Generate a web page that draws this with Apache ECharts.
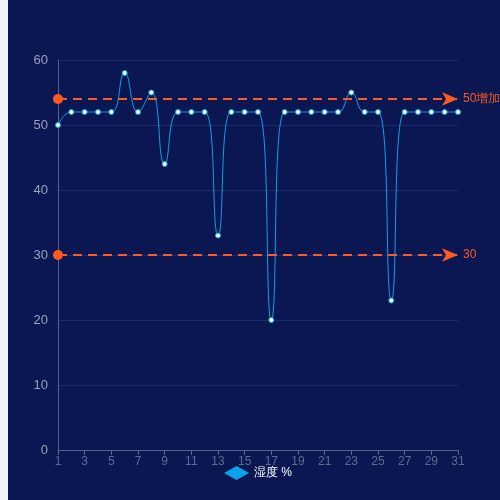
<!DOCTYPE html>
<html>
<head>
<meta charset="utf-8">
<script src="https://cdn.jsdelivr.net/npm/echarts@6/dist/echarts.min.js"></script>
<style>
    html, body { margin: 0; padding: 0; background: #f3f4f9; }
    #main { position: absolute; left: 8px; top: 0; width: 492px; height: 500px; background: #0a1752; }
</style>
</head>
<body>
<div id="main"></div>
<script>
// 日期（1-31）
var days = [];
for (var d = 1; d <= 31; d++) { days.push(String(d)); }

// 湿度 %
var humidity = [50, 52, 52, 52, 52, 58, 52, 55, 44, 52,
                52, 52, 33, 52, 52, 52, 20, 52, 52, 52,
                52, 52, 55, 52, 52, 23, 52, 52, 52, 52, 52];

// 标线
var markValues = [54, 30];
var markLabels = ['50增加值', '30'];

var yTicks = { min: 0, max: 60, interval: 10 };

var myChart = echarts.init(document.getElementById('main'));

var markData = markValues.map(function (v, i) {
    return { yAxis: v, label: { formatter: markLabels[i] } };
});

var option = {
    backgroundColor: '#0a1752',
    animation: false,
    grid: {
        left: 50,
        right: 42,
        top: 60,
        bottom: 50
    },
    legend: {
        bottom: 15,
        left: 211,
        icon: 'diamond',
        itemWidth: 25,
        itemHeight: 14,
        itemStyle: { color: '#0aa1ea', borderWidth: 0 },
        textStyle: { color: '#ffffff', fontSize: 12 },
        data: ['湿度 %']
    },
    xAxis: {
        type: 'category',
        boundaryGap: false,
        data: days,
        axisLine: { lineStyle: { color: '#5b6386' } },
        axisTick: { show: true, lineStyle: { color: '#5b6386' } },
        axisLabel: { color: '#5f6b8f', fontSize: 12, interval: 1, margin: 6 },
        splitLine: { show: false }
    },
    yAxis: {
        type: 'value',
        min: yTicks.min,
        max: yTicks.max,
        interval: yTicks.interval,
        axisLine: { show: true, lineStyle: { color: '#5b6386' } },
        axisTick: { show: false },
        axisLabel: { color: '#9ba1bb', fontSize: 13, margin: 10 },
        splitLine: { lineStyle: { color: '#1f2b66' } }
    },
    series: [
        {
            name: '湿度 %',
            type: 'line',
            smooth: true,
            data: humidity,
            symbol: 'circle',
            symbolSize: 5,
            itemStyle: {
                color: '#ffffff',
                borderColor: '#0aa1ea',
                borderWidth: 1
            },
            lineStyle: { color: '#0aa1ea', width: 1 },
            markLine: {
                silent: true,
                symbol: ['circle', 'arrow'],
                symbolSize: [10, 16],
                lineStyle: { color: '#ff5a1f', type: [9, 6], width: 2 },
                label: { color: '#ff5a1f', fontSize: 12, position: 'end' },
                data: markData
            }
        }
    ]
};
myChart.setOption(option);
window.addEventListener('resize', function () {
    myChart.resize();
});
</script>
</body>
</html>
